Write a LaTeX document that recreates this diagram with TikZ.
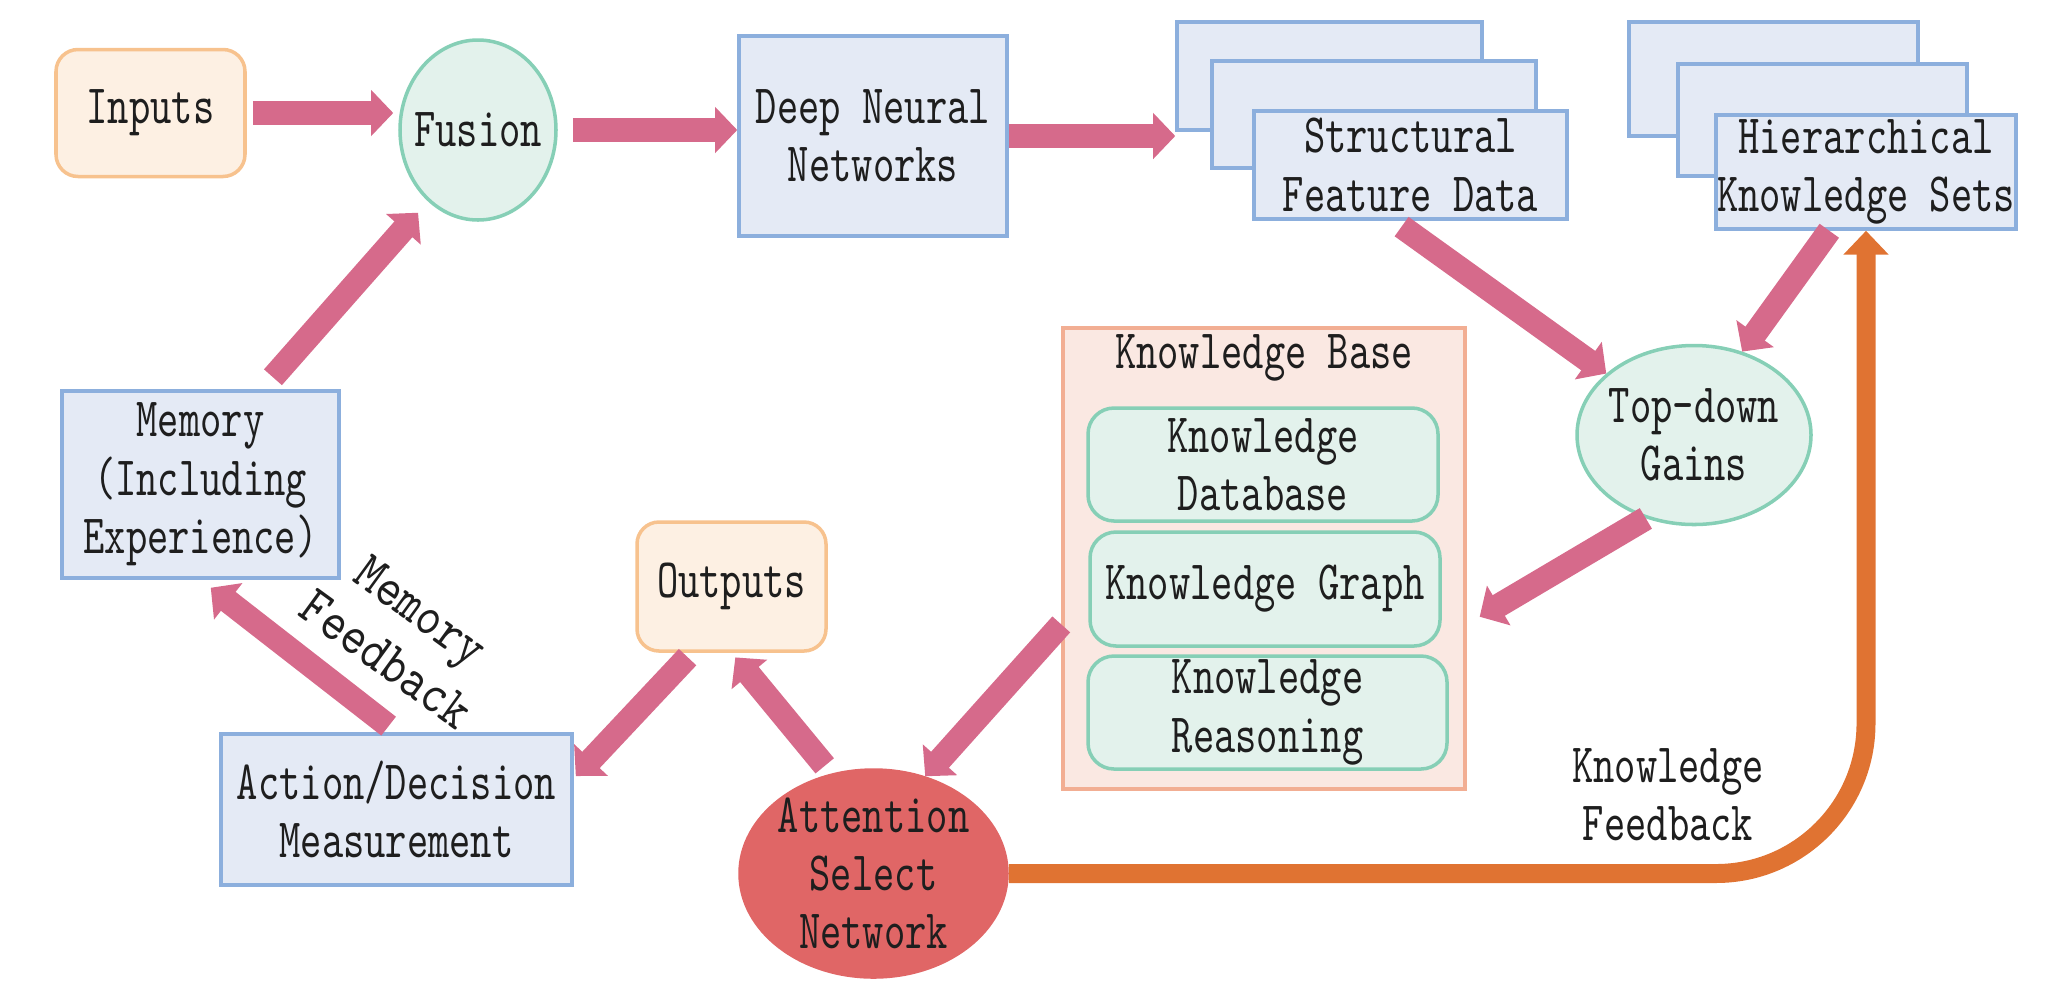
\documentclass[tikz,border=0pt]{standalone}
\usepackage{fontspec}
\setmainfont{lmmono10-regular}[Extension=.otf, FakeStretch=0.73]
\newfontfamily\fbfont{lmmono10-regular}[Extension=.otf, FakeStretch=0.85]
\usepackage{tikz}
\usetikzlibrary{arrows.meta,positioning,calc,shapes.geometric}
\definecolor{pinkarr}{HTML}{D66A8B}
\definecolor{blfill}{HTML}{E4EAF5}
\definecolor{bldraw}{HTML}{8CAFDD}
\definecolor{orfill}{HTML}{FDF0E3}
\definecolor{ordraw}{HTML}{F7C28E}
\definecolor{grfill}{HTML}{E3F2EC}
\definecolor{grdraw}{HTML}{86CFB6}
\definecolor{kbfill}{HTML}{FAE8E2}
\definecolor{kbdraw}{HTML}{F2AE93}
\definecolor{attred}{HTML}{E06666}
\definecolor{fbline}{HTML}{E07332}
\definecolor{txt}{HTML}{1E1E1E}

\begin{document}
\begin{tikzpicture}[x=0.1mm, y=-0.1mm,
    every node/.style={font=\fontsize{15.8}{16.6}\selectfont, text=txt, align=center, inner sep=0pt},
    bluebox/.style={draw=bldraw, fill=blfill, line width=1pt},
    orbox/.style={draw=ordraw, fill=orfill, line width=1pt, rounded corners=2.2mm},
    grbox/.style={draw=grdraw, fill=grfill, line width=1pt, rounded corners=2.6mm},
    grell/.style={ellipse, draw=grdraw, fill=grfill, line width=1pt, inner sep=-2cm},
    pk/.style={draw=pinkarr, line width=6.8pt, -{Triangle[length=6.3pt, width=12.8pt]}},
    fb/.style={draw=fbline, line width=5.4pt, rounded corners=15mm, -{Triangle[length=6.8pt, width=12.5pt]}}]
  \useasboundingbox (0,0) rectangle (2048,1000);
  % top row
  \node[orbox, minimum width=18.9mm, minimum height=12.7mm] (inp) at (150.5,113) {Inputs};
  \node[grell, minimum width=15.6mm, minimum height=18mm] (fus) at (478,130) {Fusion};
  \node[bluebox, minimum width=26.8mm, minimum height=20mm] (dnn) at (873,136) {Deep Neural\\Networks};
  % stacked feature data
  \node[bluebox, minimum width=30.5mm, minimum height=10.8mm] (sfdA) at (1329.5,76) {};
  \node[bluebox, minimum width=32.4mm, minimum height=10.7mm] (sfdB) at (1374,114.5) {};
  \node[bluebox, minimum width=31.3mm, minimum height=10.8mm] (sfd) at (1410.5,165) {Structural\\Feature Data};
  % stacked knowledge sets
  \node[bluebox, minimum width=28.9mm, minimum height=11.4mm] (hksA) at (1773.5,79) {};
  \node[bluebox, minimum width=28.9mm, minimum height=11.2mm] (hksB) at (1822.5,120) {};
  \node[bluebox, minimum width=30mm, minimum height=11.4mm] (hks) at (1866,172) {Hierarchical\\Knowledge Sets};
  \node[grell, minimum width=23.4mm, minimum height=17.9mm] (tdg) at (1694,435) {Top-down\\Gains};
  % knowledge base
  \node[draw=kbdraw, fill=kbfill, line width=1pt, minimum width=40.2mm, minimum height=46.1mm] (kb) at (1264,558.5) {};
  \node (kbt) at (1264,358) {Knowledge Base};
  \node[grbox, minimum width=35mm, minimum height=11.3mm] (kdb) at (1263,464.5) {Knowledge\\Database};
  \node[grbox, minimum width=35mm, minimum height=11.4mm] (kgr) at (1265,589) {Knowledge Graph};
  \node[grbox, minimum width=35.9mm, minimum height=11.3mm] (krs) at (1267.5,712.5) {Knowledge\\Reasoning};
  % lower left
  \node[bluebox, minimum width=27.7mm, minimum height=18.7mm] (mem) at (200.5,484.5) {Memory\\(Including\\Experience)};
  \node[orbox, minimum width=18.9mm, minimum height=12.9mm] (out) at (731.5,586.5) {Outputs};
  \node[bluebox, minimum width=35.1mm, minimum height=15.1mm] (act) at (396.5,809.5) {Action/Decision\\Measurement};
  \node[ellipse, draw=attred, fill=attred, line width=1pt, inner sep=-2cm, minimum width=26.7mm, minimum height=20.7mm] (att) at (873.5,873.5) {Attention\\Select\\Network};
  \node[font=\fbfont\fontsize{15.8}{17}\selectfont, rotate=-36] (mfb) at (404,635) {Memory\\Feedback};
  \node (kfb) at (1668,795) {Knowledge\\Feedback};
  % pink connectors
  \draw[pk, shorten <=0.6mm, shorten >=0.5mm] (inp.east) -- (inp.east -| fus.west);
  \draw[pk, shorten <=1.5mm] (fus.east) -- (fus.east -| dnn.west);
  \draw[pk] (dnn.east) -- (dnn.east -| sfdA.west);
  \draw[pk, shorten <=1mm] (sfd.253) -- (tdg.145);
  \draw[pk] (hks.238) -- (tdg.60);
  \draw[pk, shorten >=1.5mm] (tdg.240) -- (kb.-18);
  \draw[pk] (kb.198) -- (att.62);
  \draw[pk, shorten <=1mm, shorten >=0.6mm] (att.113) -- (out.south);
  \draw[pk, shorten <=0.6mm, shorten >=0.3mm] (out.239) -- (act.10);
  \draw[pk, shorten <=1mm, shorten >=1.3mm] (act.north) -- (mem.south);
  \draw[pk, shorten <=1.6mm, shorten >=1.5mm] (mem.57) -- (fus.235);
  % knowledge feedback loop
  \draw[fb] (att.east) -| (hks.south);
\end{tikzpicture}
\end{document}
